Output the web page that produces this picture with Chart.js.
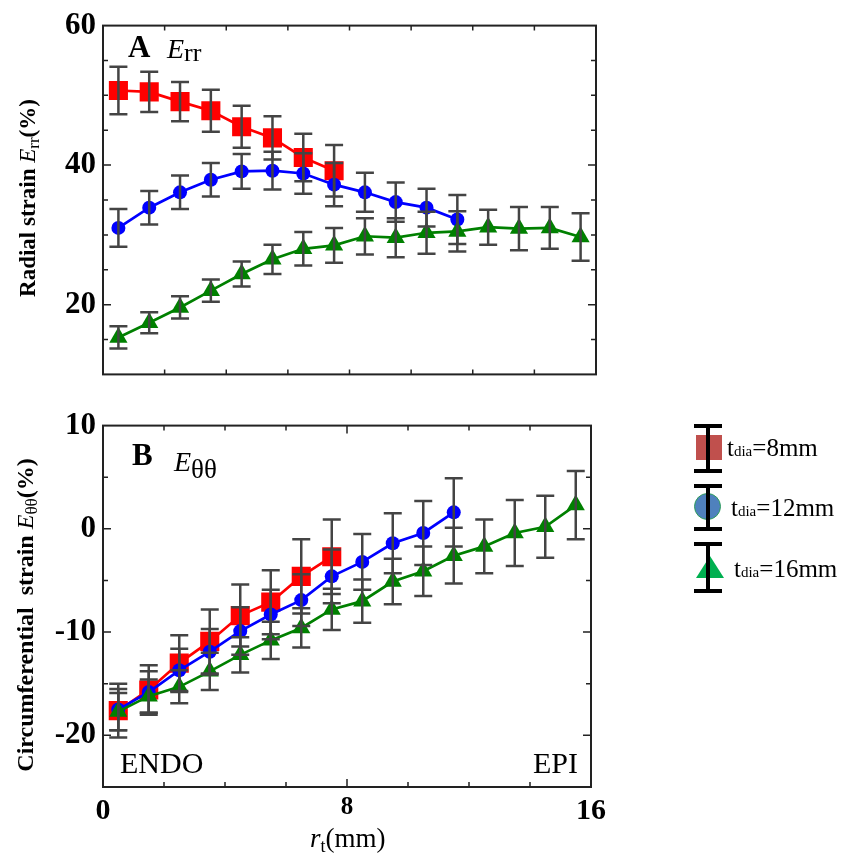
<!DOCTYPE html>
<html><head><meta charset="utf-8">
<script src="https://cdn.jsdelivr.net/npm/chart.js@4.4.1/dist/chart.umd.min.js"></script>
<style>
html,body{margin:0;padding:0;background:#fff;}
#wrap{position:relative;width:850px;height:861px;overflow:hidden;font-family:"Liberation Serif","Times New Roman",serif;color:#000;}
canvas{position:absolute;left:0;}
.t{position:absolute;white-space:nowrap;line-height:1;}
.rot{position:absolute;white-space:nowrap;line-height:1;transform:translate(-50%,-50%) rotate(-90deg);}
.bar{position:absolute;background:#000;}
</style></head>
<body><div id="wrap">
<canvas id="chartA" width="850" height="400" style="top:0"></canvas>
<canvas id="chartB" width="850" height="461" style="top:400px"></canvas>

<div class="rot" style="left:27px;top:198px;font-size:23px;font-weight:bold">Radial strain <i style="font-weight:normal">E</i><span style="font-size:17px;position:relative;top:4px;font-weight:normal">rr</span>(%)</div>
<div class="rot" style="left:25px;top:615px;font-size:24px;font-weight:bold">Circumferential&nbsp; strain <i style="font-weight:normal">E</i><span style="font-size:17px;position:relative;top:4px;font-weight:normal">θθ</span>(%)</div>

<div class="t" style="left:128px;top:31px;font-size:31px;font-weight:bold">A</div>
<div class="t" style="left:167px;top:35px;font-size:28px"><i>E</i><span style="position:relative;top:3px;font-size:26px">rr</span></div>
<div class="t" style="left:132px;top:439px;font-size:31px;font-weight:bold">B</div>
<div class="t" style="left:174px;top:448px;font-size:28px"><i>E</i><span style="position:relative;top:7px;font-size:27px">θθ</span></div>

<div class="t" style="left:120px;top:748px;font-size:30px">ENDO</div>
<div class="t" style="left:533px;top:748px;font-size:30px">EPI</div>

<div class="t" style="left:310px;top:825px;font-size:27px"><i>r</i><span style="position:relative;top:5px;font-size:18px">t</span>(mm)</div>

<!-- legend -->
<div style="position:absolute;left:696px;top:435px;width:26px;height:25px;background:#c0504d"></div>
<div class="bar" style="left:706px;top:425px;width:4px;height:47px"></div>
<div class="bar" style="left:694px;top:424px;width:28px;height:4px"></div>
<div class="bar" style="left:694px;top:469px;width:28px;height:4px"></div>
<div class="t" style="left:727px;top:435px;font-size:25px">t<span style="font-size:15px">dia</span>=8mm</div>

<div style="position:absolute;left:694px;top:493px;width:25px;height:25px;border-radius:50%;background:#4f81bd;border:1.5px solid #2e9e5a"></div>
<div class="bar" style="left:706px;top:485px;width:4px;height:45px"></div>
<div class="bar" style="left:694px;top:484px;width:28px;height:4px"></div>
<div class="bar" style="left:694px;top:527px;width:28px;height:4px"></div>
<div class="t" style="left:731px;top:495px;font-size:25px">t<span style="font-size:15px">dia</span>=12mm</div>

<div style="position:absolute;left:696px;top:556px;width:0;height:0;border-left:14px solid transparent;border-right:14px solid transparent;border-bottom:22px solid #00b050"></div>
<div class="bar" style="left:706px;top:543px;width:4px;height:49px"></div>
<div class="bar" style="left:694px;top:542px;width:28px;height:4px"></div>
<div class="bar" style="left:694px;top:589px;width:28px;height:4px"></div>
<div class="t" style="left:734px;top:556px;font-size:25px">t<span style="font-size:15px">dia</span>=16mm</div>
</div>
<script>
// transmural positions (mm)
const rPositions = [0.5, 1.5, 2.5, 3.5, 4.5, 5.5, 6.5, 7.5, 8.5, 9.5, 10.5, 11.5, 12.5, 13.5, 14.5, 15.5];

// Panel A: radial strain Err (%)
const errRed8   = [50.7, 50.5, 49.1, 47.8, 45.5, 43.9, 41.1, 39.2];
const errRed8SD = [3.4, 2.9, 2.8, 3.0, 3.0, 3.1, 3.4, 3.7];
const errBlue12   = [31.0, 33.9, 36.1, 37.9, 39.1, 39.2, 38.8, 37.2, 36.1, 34.7, 33.9, 32.2];
const errBlue12SD = [2.7, 2.4, 2.4, 2.4, 2.5, 2.7, 2.9, 3.1, 2.8, 2.8, 2.7, 3.5];
const errGreen16   = [15.3, 17.4, 19.6, 22.0, 24.4, 26.5, 28.0, 28.5, 29.8, 29.6, 30.3, 30.5, 31.1, 30.9, 31.0, 29.7];
const errGreen16SD = [1.6, 1.5, 1.6, 1.6, 1.8, 2.1, 2.4, 2.5, 2.6, 2.8, 3.0, 2.9, 2.5, 3.1, 3.0, 3.4];

// Panel B: circumferential strain Ett (%)
const ettRed8   = [-17.6, -15.6, -13.0, -10.9, -8.4, -7.1, -4.6, -2.7];
const ettRed8SD = [2.6, 2.4, 2.7, 3.1, 3.0, 3.1, 3.6, 3.6];
const ettBlue12   = [-17.5, -15.8, -13.7, -11.9, -9.9, -8.3, -6.9, -4.6, -3.2, -1.4, -0.4, 1.6];
const ettBlue12SD = [2.0, 2.0, 2.1, 2.2, 2.3, 2.4, 2.5, 2.6, 2.7, 2.9, 3.1, 3.3];
const ettGreen16   = [-17.7, -16.2, -15.3, -13.8, -12.2, -10.8, -9.6, -7.8, -7.0, -5.1, -4.1, -2.6, -1.7, -0.4, 0.2, 2.3];
const ettGreen16SD = [1.8, 1.6, 1.6, 1.8, 1.7, 1.8, 1.9, 2.0, 2.1, 2.2, 2.4, 2.7, 2.6, 3.2, 3.0, 3.3];

// axis tick settings
const xRange = [0, 16], xStep = 2, xLabelEvery = 8;
const yRangeA = [10, 60], yStepA = 5, yLabelEveryA = 20;
const yRangeB = [-25, 10], yStepB = 5, yLabelEveryB = 10;

const FONT = "'Liberation Serif','Times New Roman',serif";

function pts(vals) { return vals.map((v, i) => ({ x: rPositions[i], y: v })); }

function ds(label, vals, sd, color, style, radius, order) {
  return {
    label, data: pts(vals), errors: sd, order,
    borderColor: color, backgroundColor: color, borderWidth: 2.7,
    pointStyle: style, pointRadius: radius, pointHoverRadius: radius,
    pointBackgroundColor: color, pointBorderColor: color, pointBorderWidth: 0,
    tension: 0, fill: false
  };
}

const frameTicks = {
  id: 'frameTicks',
  afterDraw(chart) {
    const { ctx, chartArea: a, scales } = chart;
    ctx.save();
    ctx.strokeStyle = '#222';
    ctx.lineWidth = 1.5;
    ctx.beginPath();
    scales.x.ticks.forEach(t => {
      const x = scales.x.getPixelForValue(t.value);
      if (x <= a.left + 1 || x >= a.right - 1) return;
      const L = t.label ? 8 : 5;
      ctx.moveTo(x, a.bottom); ctx.lineTo(x, a.bottom - L);
      ctx.moveTo(x, a.top); ctx.lineTo(x, a.top + L);
    });
    scales.y.ticks.forEach(t => {
      const y = scales.y.getPixelForValue(t.value);
      if (y <= a.top + 1 || y >= a.bottom - 1) return;
      const L = t.label ? 8 : 5;
      ctx.moveTo(a.left, y); ctx.lineTo(a.left + L, y);
      ctx.moveTo(a.right, y); ctx.lineTo(a.right - L, y);
    });
    ctx.stroke();
    ctx.lineWidth = 2;
    ctx.strokeRect(a.left, a.top, a.right - a.left, a.bottom - a.top);
    ctx.restore();
  }
};

const errorBars = {
  id: 'errorBars',
  afterDatasetsDraw(chart) {
    const ctx = chart.ctx, ys = chart.scales.y;
    ctx.save();
    ctx.strokeStyle = '#444';
    ctx.lineWidth = 2.5;
    chart.data.datasets.forEach((d, i) => {
      const meta = chart.getDatasetMeta(i);
      d.data.forEach((p, j) => {
        const el = meta.data[j];
        const e = d.errors[j];
        const x = el.x;
        const y1 = ys.getPixelForValue(p.y + e), y2 = ys.getPixelForValue(p.y - e);
        ctx.beginPath();
        ctx.moveTo(x, y1); ctx.lineTo(x, y2);
        ctx.moveTo(x - 9, y1); ctx.lineTo(x + 9, y1);
        ctx.moveTo(x - 9, y2); ctx.lineTo(x + 9, y2);
        ctx.stroke();
      });
    });
    ctx.restore();
  }
};

function makeChart(id, datasets, yRange, yStep, yEvery, showX, pad, xHeight) {
  return new Chart(document.getElementById(id), {
    type: 'line',
    data: { datasets },
    options: {
      responsive: false, animation: false, devicePixelRatio: 1,
      layout: { padding: pad },
      plugins: { legend: { display: false }, tooltip: { enabled: false } },
      scales: {
        x: {
          type: 'linear', min: xRange[0], max: xRange[1],
          grid: { display: false, drawTicks: false }, border: { display: false },
          ticks: {
            stepSize: xStep, padding: 6, color: '#000', maxRotation: 0, autoSkip: false,
            font: c => ({ family: FONT, weight: 'bold', size: (c.tick && c.tick.value === 8) ? 25 : 30 }),
            callback: v => (showX && v % xLabelEvery === 0) ? String(v) : ''
          },
          afterFit: s => { s.height = xHeight; }
        },
        y: {
          min: yRange[0], max: yRange[1],
          grid: { display: false, drawTicks: false }, border: { display: false },
          ticks: {
            stepSize: yStep, padding: 7, color: '#000', autoSkip: false,
            font: { family: FONT, weight: 'bold', size: 31 },
            callback: v => (v % yEvery === 0) ? String(v) : ''
          },
          afterFit: s => { s.width = 103; }
        }
      }
    },
    plugins: [errorBars, frameTicks]
  });
}

makeChart('chartA', [
  ds('tdia=8mm', errRed8, errRed8SD, '#ff0000', 'rect', 13.5, 3),
  ds('tdia=12mm', errBlue12, errBlue12SD, '#0000ff', 'circle', 7, 2),
  ds('tdia=16mm', errGreen16, errGreen16SD, '#008000', 'triangle', 10.5, 1)
], yRangeA, yStepA, yLabelEveryA, false, { left: 0, right: 254, top: 22, bottom: 0 }, 19);

makeChart('chartB', [
  ds('tdia=8mm', ettRed8, ettRed8SD, '#ff0000', 'rect', 13.5, 3),
  ds('tdia=12mm', ettBlue12, ettBlue12SD, '#0000ff', 'circle', 7, 2),
  ds('tdia=16mm', ettGreen16, ettGreen16SD, '#008000', 'triangle', 10.5, 1)
], yRangeB, yStepB, yLabelEveryB, true, { left: 0, right: 259, top: 25, bottom: 0 }, 74);
</script>
</body></html>
